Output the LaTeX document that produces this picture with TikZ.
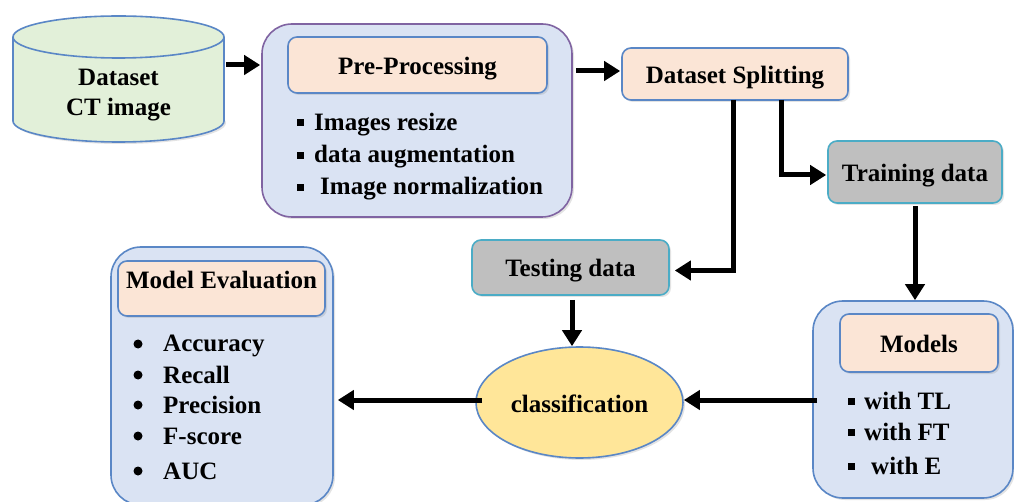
\documentclass[tikz,border=0pt]{standalone}
\usepackage{fontspec}
\setmainfont{Liberation Serif}
\usetikzlibrary{arrows.meta,shapes.geometric,shadows,calc}
\definecolor{cgreen}{HTML}{E2F0D9}
\definecolor{cblue}{HTML}{DAE3F3}
\definecolor{cpeach}{HTML}{FBE5D6}
\definecolor{cgray}{HTML}{BFBFBF}
\definecolor{cyellow}{HTML}{FFE699}
\definecolor{bblue}{HTML}{5A87C6}
\definecolor{bpurple}{HTML}{8064A2}
\definecolor{bteal}{HTML}{4BACC6}
\begin{document}
\begin{tikzpicture}[x=1pt,y=-1pt,
  every node/.style={font=\fontsize{25}{30}\selectfont\bfseries},
  shad/.style={drop shadow={opacity=0.22,shadow xshift=2pt,shadow yshift=-2pt}},
  txt/.style={text height=19pt,text depth=0pt},
  outerbox/.style={draw=bblue,line width=1.6pt,fill=cblue,rounded corners=30pt,shad},
  innerbox/.style={draw=bblue,line width=1.6pt,fill=cpeach,rounded corners=9pt,shad,txt},
  graybox/.style={draw=bteal,line width=1.6pt,fill=cgray,rounded corners=9pt,shad,txt},
  arr/.style={line width=5pt,line join=miter,-{Triangle[length=16pt,width=19pt]}},
  sqb/.style={fill=black,inner sep=0pt,minimum size=7pt,font=\normalsize},
  dotb/.style={circle,fill=black,inner sep=0pt,minimum size=9pt,font=\normalsize},
  item/.style={anchor=base west,inner sep=0pt}]
\fill[white] (0,0) rectangle (1014,502);
\useasboundingbox (0,0) rectangle (1014,502);

% cylinder
\filldraw[fill=cgreen,draw=bblue,line width=1.6pt,shad] (118.5,121) ellipse [x radius=105.5,y radius=21];
\fill[cgreen] (13,37) rectangle (224,121);
\draw[bblue,line width=1.6pt] (13,37) -- (13,121) (224,37) -- (224,121);
\filldraw[fill=cgreen,draw=bblue,line width=1.6pt] (118.5,37) ellipse [x radius=105.5,y radius=21];
\node[minimum width=211pt,align=center,inner sep=0pt] (cyl) at (118.5,95) {Dataset\\CT image};

% pre-processing
\node[outerbox,draw=bpurple,minimum width=310pt,minimum height=193pt] (pre) at (417,120.5) {};
\node[innerbox,minimum width=259pt,minimum height=56pt] (preIn) at (417.5,65) {Pre-Processing};
\node[sqb] (pb1) at (300,123) {};
\node[sqb] (pb2) at (300,156) {};
\node[sqb] (pb3) at (300,188) {};
\node[item] (pt1) at (314,131) {Images resize};
\node[item] (pt2) at (314,163) {data augmentation};
\node[item] (pt3) at (320,195) {Image normalization};

% dataset splitting
\node[innerbox,minimum width=226pt,minimum height=52pt] (ds) at (735,74) {Dataset Splitting};
\node[graybox,minimum width=174pt,minimum height=62pt] (train) at (915,172) {Training data};
\node[graybox,minimum width=197pt,minimum height=55pt] (test) at (570.5,267.5) {Testing data};

% models
\node[outerbox,minimum width=200pt,minimum height=197pt] (models) at (913,399.5) {};
\node[innerbox,minimum width=158pt,minimum height=58pt] (modIn) at (919,343) {Models};
\node[sqb] (mb1) at (851,401) {};
\node[sqb] (mb2) at (851,432) {};
\node[sqb] (mb3) at (851,466) {};
\node[item] (mt1) at (864,409) {with TL};
\node[item] (mt2) at (864,440) {with FT};
\node[item] (mt3) at (871,474) {with E};

% classification
\node[ellipse,draw=bblue,line width=1.6pt,fill=cyellow,minimum width=207pt,minimum height=111pt,inner sep=0pt,shad,txt] (cls) at (579.5,402.5) {classification};

% model evaluation
\node[outerbox,minimum width=222pt,minimum height=258pt] (me) at (222,376) {};
\node[innerbox,minimum width=207pt,minimum height=55pt] (meIn) at (221.5,288.5) {};
\node[anchor=base,inner sep=0pt] (meT) at (221.5,289) {Model Evaluation};
\foreach \yy/\tt [count=\i] in {344/Accuracy,375/Recall,405/Precision,436/F-score,471/AUC}{
  \node[dotb] (md\i) at (138,\yy) {};
  \node[item] (mm\i) at (163,\yy+8) {\tt};
}

% connectors
\coordinate (s1) at (733,100);
\coordinate (s2) at (781,100);
\draw[arr,shorten <=2pt,shorten >=1pt] (cyl.east |- preIn) -- (pre.west |- preIn);
\draw[arr,shorten <=3pt,shorten >=1pt] (pre.east |- 0,71) -- (ds.west |- 0,71);
\draw[arr,shorten >=5pt] (s1) |- ($(test.east)+(0,3)$);
\draw[arr,shorten >=1pt] (s2) |- ($(train.west)+(0,3)$);
\draw[arr,shorten <=2pt] (train.south) -- (train.south |- models.north);
\draw[arr,shorten <=4pt] (test.south -| 572,0) -- (cls.north -| 572,0);
\draw[arr,shorten <=-5pt] (models.west |- 0,400) -- (cls.east |- 0,400);
\draw[arr,shorten <=-7pt,shorten >=4pt] (cls.west |- 0,400) -- (me.east |- 0,400);
\end{tikzpicture}
\end{document}
